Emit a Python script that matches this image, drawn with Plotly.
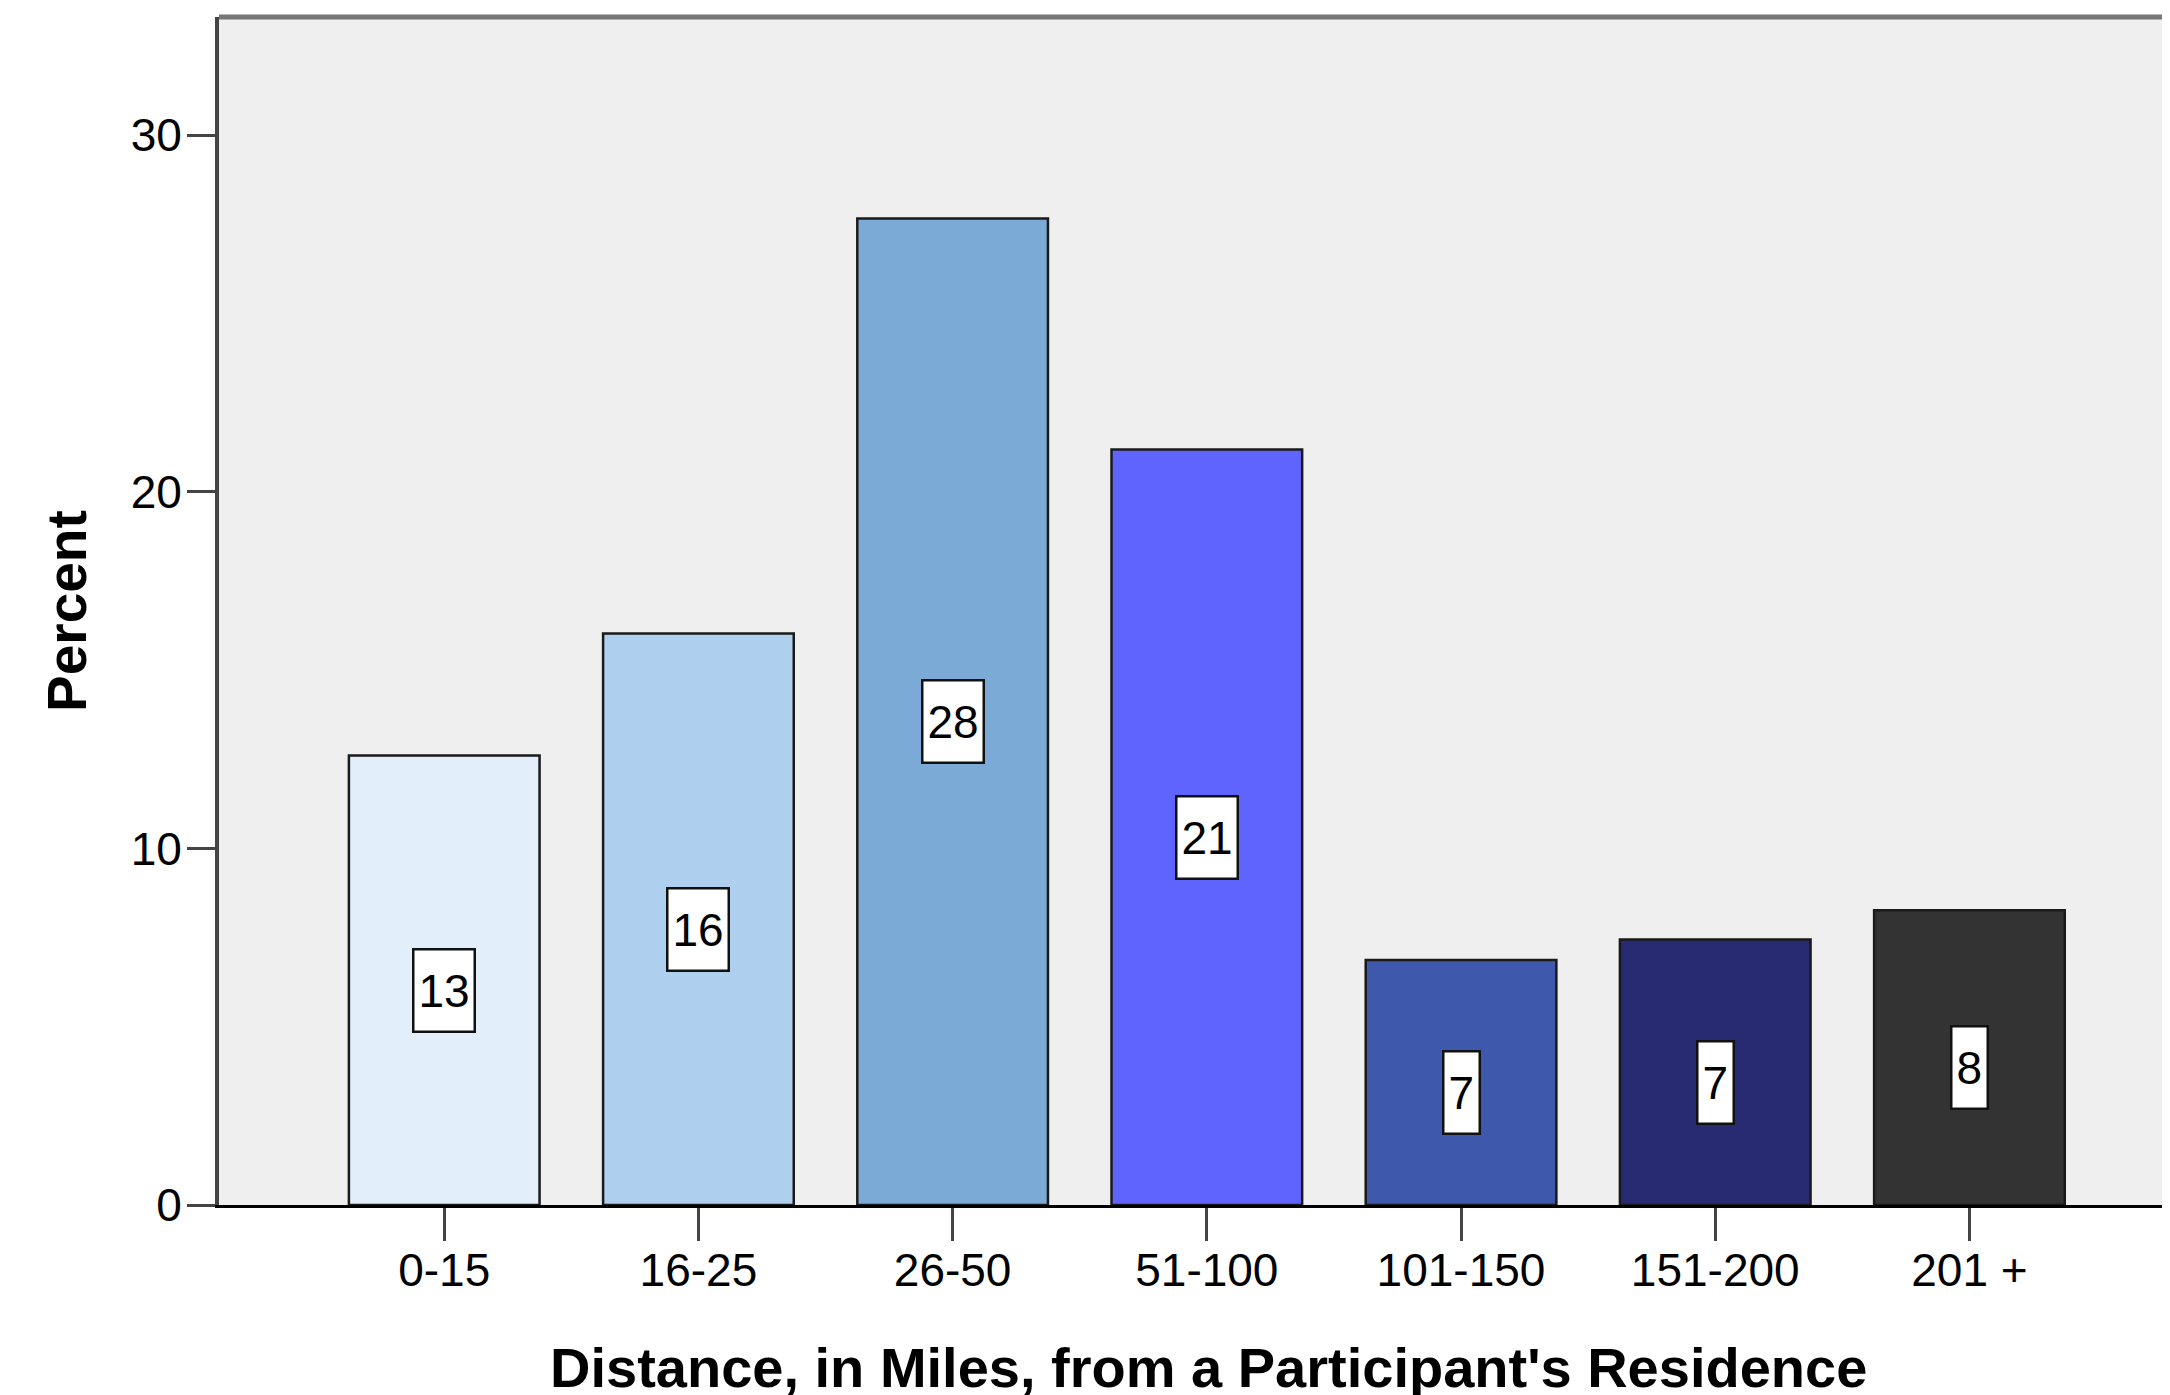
import plotly.graph_objects as go

categories = ["0-15", "16-25", "26-50", "51-100", "101-150", "151-200", "201 +"]
percent = [12.61, 16.03, 27.67, 21.19, 6.87, 7.45, 8.27]
bar_colors = ["#E2EEFA", "#AECFEE", "#7CAAD6", "#5F64FF", "#3E59AB", "#282A72", "#333333"]
y_ticks = [0, 10, 20, 30]
x_title = "Distance, in Miles, from a Participant's Residence"
y_title = "Percent"

FONT = "Liberation Sans, Arial, sans-serif"

fig = go.Figure()
fig.add_trace(go.Bar(
    x=categories, y=percent, width=0.75,
    marker=dict(color=bar_colors, line=dict(color="#1a1a1a", width=2.5)),
    hoverinfo="skip",
))

annotations = []
for c, v in zip(categories, percent):
    annotations.append(dict(
        x=c, y=v / 2, xref="x", yref="y", text=str(int(round(v))),
        showarrow=False, yshift=-10,
        font=dict(family=FONT, size=46, color="black"),
        bgcolor="white", bordercolor="#111", borderwidth=2.5, borderpad=4,
        height=72,
    ))

annotations.append(dict(
    x=0.5074, y=-0.137, xref="paper", yref="paper", text=x_title,
    showarrow=False, xanchor="center", yanchor="middle",
    font=dict(family=FONT, size=56, color="black", weight="bold"),
))
annotations.append(dict(
    x=-0.0779, y=0.5, xref="paper", yref="paper", text=y_title,
    showarrow=False, textangle=-90, xanchor="center", yanchor="middle",
    font=dict(family=FONT, size=55, color="black", weight="bold"),
))

fig.update_layout(
    width=2162, height=1387,
    margin=dict(l=211, r=0, t=9, b=190, autoexpand=False),
    paper_bgcolor="white", plot_bgcolor="#EFEFEF",
    showlegend=False,
    annotations=annotations,
    xaxis=dict(
        type="category", range=[-0.886, 6.789],
        showgrid=False, zeroline=False, automargin=False,
        showline=True, linecolor="black", linewidth=3,
        ticks="outside", ticklen=33, tickwidth=3, tickcolor="#444",
        tickfont=dict(family=FONT, size=46, color="black"),
        ticklabelstandoff=-10,
    ),
    yaxis=dict(
        range=[0, 33.32], tickvals=y_ticks,
        showgrid=False, zeroline=False, automargin=False,
        showline=True, linecolor="#444", linewidth=4,
        ticks="outside", ticklen=28, tickwidth=3, tickcolor="#444",
        tickfont=dict(family=FONT, size=46, color="black"),
        ticklabelstandoff=-4,
    ),
    shapes=[dict(type="line", xref="paper", yref="paper", x0=0, x1=1, y0=1, y1=1,
                 line=dict(color="#777777", width=5))],
)

fig.write_html("out.html")
